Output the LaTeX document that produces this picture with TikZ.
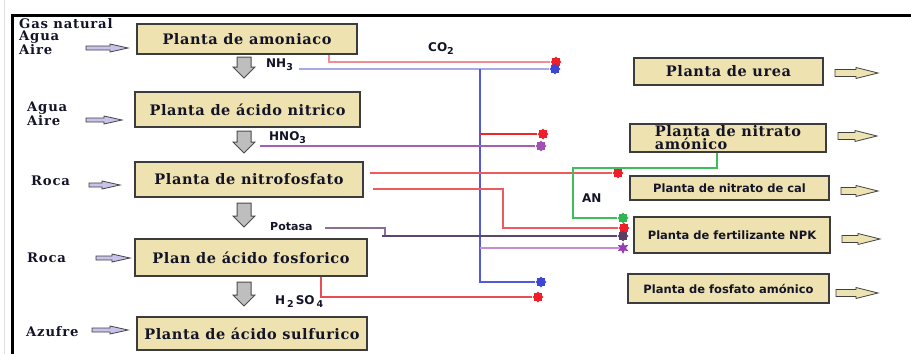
\documentclass[tikz,border=0pt]{standalone}
\usepackage{fontspec}
\usetikzlibrary{shapes.geometric,calc}
\newfontfamily\dvser{DejaVu Serif}[LetterSpace=4]
\newfontfamily\dvserl{DejaVu Serif}[LetterSpace=6]
\newfontfamily\dvs{DejaVu Sans}
\definecolor{boxfill}{RGB}{238,226,176}
\definecolor{boxborder}{RGB}{60,60,60}
\definecolor{txt}{RGB}{20,20,40}
\definecolor{lav}{RGB}{200,195,235}
\definecolor{grayarr}{RGB}{190,190,190}
\definecolor{tanarr}{RGB}{236,226,178}
\definecolor{co2c}{RGB}{244,140,145}
\definecolor{nh3c}{RGB}{165,170,230}
\definecolor{bluec}{RGB}{80,90,225}
\definecolor{redc}{RGB}{235,40,45}
\definecolor{hno3c}{RGB}{165,95,180}
\definecolor{red2c}{RGB}{240,90,95}
\definecolor{greenc}{RGB}{60,190,90}
\definecolor{potc}{RGB}{140,110,150}
\definecolor{darkpc}{RGB}{90,70,110}
\definecolor{violc}{RGB}{200,140,215}
\definecolor{h2so4c}{RGB}{235,75,85}
\definecolor{bred}{RGB}{240,30,40}
\definecolor{bblue}{RGB}{60,70,210}
\definecolor{bpurp}{RGB}{160,80,180}
\definecolor{bgreen}{RGB}{50,180,80}
\definecolor{bdark}{RGB}{90,60,100}
\definecolor{bviol}{RGB}{150,60,180}
\newcommand\subs[1]{\raisebox{-3pt}{\fontsize{9.5}{10}\selectfont #1}}
\newcommand\larrow[3]{\draw[inarr] (#1,{#3-2}) -- ({#2-18},{#3-2}) -- ({#2-18},{#3-4}) -- (#2,#3) -- ({#2-18},{#3+4}) -- ({#2-18},{#3+2}) -- (#1,{#3+2}) -- cycle;}
\newcommand\rarrow[3]{\draw[outarr] (#1,{#3-3.5}) -- ({#2-22},{#3-3.5}) -- ({#2-22},{#3-5.5}) -- (#2,#3) -- ({#2-22},{#3+5.5}) -- ({#2-22},{#3+3.5}) -- (#1,{#3+3.5}) -- cycle;}
\newcommand\dnarrow[3]{\draw[dnarr] ({#1-7},#2) -- ({#1+7},#2) -- ({#1+7},{#3-11}) -- ({#1+11},{#3-11}) -- (#1,#3) -- ({#1-11},{#3-11}) -- ({#1-7},{#3-11}) -- cycle;}
\begin{document}
\begin{tikzpicture}[x=1pt,y=-1pt,
  box/.style={draw=boxborder, fill=boxfill, line width=1.3pt, inner sep=0pt, text=txt, font=\dvser\bfseries\fontsize{14.5}{13}\selectfont},
  sbox/.style={box, font=\dvs\bfseries\fontsize{11.5}{13}\selectfont},
  lab/.style={anchor=west, inner sep=0pt, text=txt, font=\dvserl\bfseries\fontsize{13.2}{12}\selectfont},
  slab/.style={anchor=west, inner sep=0pt, text=txt, font=\dvs\bfseries\fontsize{12}{13}\selectfont},
  blob/.style={star, star points=8, star point ratio=1.35, minimum size=11pt, inner sep=0pt, draw=none},
  flow/.style={line width=1.4pt},
  inarr/.style={draw=black!75, fill=lav, line width=0.8pt},
  outarr/.style={draw=black!75, fill=tanarr, line width=0.8pt},
  dnarr/.style={draw=black!70, fill=grayarr, line width=1pt}]
\useasboundingbox (0,0) rectangle (911,354);
\fill[white] (0,0) rectangle (911,354);
% frame
\draw[gray!25, line width=1pt] (4,0) -- (4,354);
\draw[line width=3pt] (12,354) -- (12,15) -- (911,15);
% left boxes
\node[box, minimum width=220pt, minimum height=30pt] (amon) at (247,39) {Planta de amoniaco};
\node[box, minimum width=225pt, minimum height=35pt] (nitr) at (247.5,109.5) {Planta de ácido nitrico};
\node[box, minimum width=228pt, minimum height=35pt] (nfos) at (249,179.5) {Planta de nitrofosfato};
\node[box, minimum width=232pt, minimum height=37pt] (fosf) at (251,257.5) {Plan de ácido fosforico};
\node[box, minimum width=230pt, minimum height=33pt] (sulf) at (252,333.5) {\raisebox{-2pt}{Planta de ácido sulfurico}};
% right boxes
\node[box, minimum width=189pt, minimum height=27pt] (urea) at (728.5,71.5) {Planta de urea};
\node[box, minimum width=196pt, minimum height=28pt, align=left] (nitam) at (728,138) {Planta de nitrato\\amónico};
\node[sbox, minimum width=199pt, minimum height=24pt] (ncal) at (729.5,188) {Planta de nitrato de cal};
\node[sbox, minimum width=196pt, minimum height=36pt] (npk) at (732,235) {Planta de fertilizante NPK};
\node[sbox, minimum width=201pt, minimum height=29pt] (fam) at (728.5,288.5) {Planta de fosfato amónico};
% left labels
\node[lab] (gas) at (19,24) {Gas natural};
\node[lab] (agua1) at (19,37) {Agua};
\node[lab] (aire1) at (19,50) {Aire};
\node[lab] (agua2) at (27,108) {Agua};
\node[lab] (aire2) at (27,121) {Aire};
\node[lab] (roca1) at (31,181) {Roca};
\node[lab] (roca2) at (27,258) {Roca};
\node[lab] (azuf) at (26,332) {Azufre};
% input arrows
\larrow{86}{128}{48}
\larrow{86}{122}{120}
\larrow{89}{120}{185}
\larrow{96}{130}{258}
\larrow{92}{128}{330}
% output arrows
\rarrow{835}{878}{73}
\rarrow{838}{877}{136}
\rarrow{841}{878}{191}
\rarrow{842}{880}{239}
\rarrow{836}{878}{293}
% down arrows
\dnarrow{244}{57}{78}
\dnarrow{244}{131}{153}
\dnarrow{244}{203}{227}
\dnarrow{244}{282}{306}
% small labels
\node[slab] (nh3) at (266,65) {NH\subs{3}};
\node[slab] (hno3) at (269,138) {HNO\subs{3}};
\node[slab] (co2) at (428,49) {CO\subs{2}};
\node[slab, font=\dvs\bfseries\fontsize{11}{12}\selectfont] (potasa) at (270,227) {Potasa};
\node[slab] (h2so4) at (275,302) {H\,\subs{2}\,SO\,\subs{4}};
\node[slab] (an) at (582,198) {AN};
% blobs
\node[blob, fill=bred] (b1) at (556,62) {};
\node[blob, fill=bblue] (b2) at (555,69) {};
\node[blob, fill=bred] (b3) at (543,134) {};
\node[blob, fill=bpurp] (b4) at (541,146) {};
\node[blob, fill=bred] (b5) at (618,173) {};
\node[blob, fill=bgreen] (b6) at (623,218) {};
\node[blob, fill=bred] (b7) at (624,228) {};
\node[blob, fill=bdark] (b8) at (623,236) {};
\node[blob, fill=bviol, star points=6, star point ratio=2, minimum size=12pt] (b9) at (623,248) {};
\node[blob, fill=bblue] (b10) at (541,282) {};
\node[blob, fill=bred] (b11) at (538,297) {};
% coordinates
\coordinate (co2s) at ($(amon.south)+(82,0)$);
\coordinate (nh3s) at (299,69);
\coordinate (nh3j) at (480,69);
\coordinate (hno3s) at (260,146);
\coordinate (nf1) at (370,173);
\coordinate (nf2) at (373,189);
\coordinate (nf2k) at (503,189);
\coordinate (g0) at ($(nitam.south)+(-11,0)$);
\coordinate (g1) at (573,168);
\coordinate (pot1) at (325,228);
\coordinate (pot2) at (385,228);
\coordinate (pot3) at (385,235);
\coordinate (dk1) at (382,236);
\coordinate (h2s) at ($(fosf.south)+(70,0)$);
% connectors
\draw[flow, co2c] (co2s) |- (b1.west);
\draw[flow, nh3c] (nh3s) -- (b2.west);
\draw[flow, bluec] (nh3j) |- (b10.west);
\draw[flow, redc] (nh3j |- b3) -- (b3.west);
\draw[flow, hno3c] (hno3s) -- (b4.west);
\draw[flow, red2c] (nf1) -- (b5.west);
\draw[flow, red2c] (nf2) -- (nf2k) |- (b7.west);
\draw[flow, greenc] (g0) |- (g1) |- (b6.west);
\draw[flow, potc] (pot1) -- (pot2) -- (pot3);
\draw[flow, darkpc] (dk1) -- (b8.west);
\draw[flow, violc] (nh3j |- b9) -- (b9.west);
\draw[flow, h2so4c] (h2s) |- (b11.west);
\end{tikzpicture}
\end{document}
